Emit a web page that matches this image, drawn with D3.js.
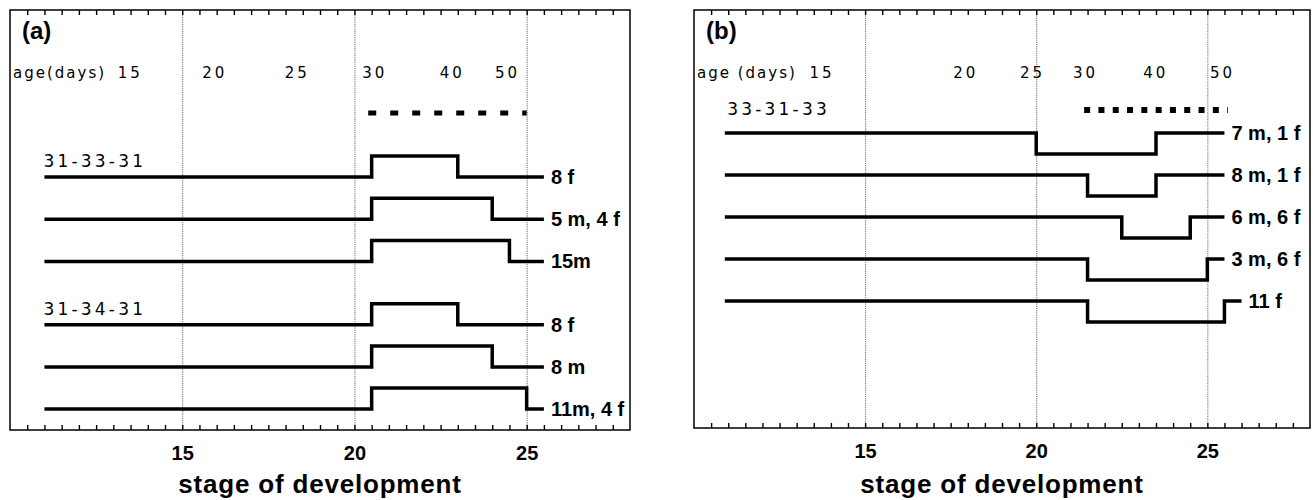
<!DOCTYPE html>
<html>
<head>
<meta charset="utf-8">
<script src="https://cdn.jsdelivr.net/npm/d3@7"></script>
<style>
  body { margin: 0; background: #fff; }
  svg { display: block; }
</style>
</head>
<body>
<div id="main"></div>
<script>
// chart data

// stage of development axis (shared)
const stageDomain = [10, 28];
const stageTicks = [15, 20, 25];
const minorStep = 0.5;

// panel (a)
const ageLabelsA = ['15', '20', '25', '30', '40', '50'];
const ageStagesA = [13.45, 15.9, 18.3, 20.55, 22.8, 24.4];
const groupsA = ['31-33-31', '31-34-31'];
const rowsA = [
  { group: 0, start: 11, shift: 20.5, back: 23, end: 25.5, label: '8 f' },
  { group: 0, start: 11, shift: 20.5, back: 24, end: 25.5, label: '5 m, 4 f' },
  { group: 0, start: 11, shift: 20.5, back: 24.5, end: 25.5, label: '15m' },
  { group: 1, start: 11, shift: 20.5, back: 23, end: 25.5, label: '8 f' },
  { group: 1, start: 11, shift: 20.5, back: 24, end: 25.5, label: '8 m' },
  { group: 1, start: 11, shift: 20.5, back: 25, end: 25.5, label: '11m, 4 f' },
];
const periodA = [20.4, 25];

// panel (b)
const ageLabelsB = ['15', '20', '25', '30', '40', '50'];
const ageStagesB = [13.7, 17.9, 19.85, 21.4, 23.45, 25.4];
const groupsB = ['33-31-33'];
const rowsB = [
  { group: 0, start: 10.9, shift: 20, back: 23.5, end: 25.5, label: '7 m, 1 f' },
  { group: 0, start: 10.9, shift: 21.5, back: 23.5, end: 25.5, label: '8 m, 1 f' },
  { group: 0, start: 10.9, shift: 22.5, back: 24.5, end: 25.5, label: '6 m, 6 f' },
  { group: 0, start: 10.9, shift: 21.5, back: 25, end: 25.5, label: '3 m, 6 f' },
  { group: 0, start: 10.9, shift: 21.5, back: 25.5, end: 26, label: '11 f' },
];
const periodB = [21.4, 25.6];

// layout
const WIDTH = 1313;
const HEIGHT = 500;
const BOLD = "'Liberation Sans', Arial, sans-serif";
const PLAIN = "'DejaVu Sans', Verdana, sans-serif";

const svg = d3
  .select('#main')
  .append('svg')
  .attr('width', WIDTH)
  .attr('height', HEIGHT);

const drawPanel = (props) => {
  const { box, tag, ageTitle, ageLabels, ageStages, groups, rows, period,
    periodStyle, level, firstRowY, rowGap, groupDy } = props;

  const g = svg.append('g');

  const x = d3.scaleLinear().domain(stageDomain).range([box.left, box.right]);

  // rows are spaced evenly, with half a row extra between groups
  const slots = rows.map((d, i) => i + d.group * 0.5);
  const y = d3
    .scaleLinear()
    .domain([0, 1])
    .range([firstRowY, firstRowY + rowGap]);
  const lv = d3.scaleLinear().domain([0, 1]).range([0, -21 * level]);

  // dotted grid at the labelled stages
  g.append('g')
    .attr('transform', `translate(0,${box.bottom})`)
    .call(
      d3.axisBottom(x).tickValues(stageTicks)
        .tickSize(-(box.bottom - box.top)).tickFormat('')
    )
    .call((a) => a.select('.domain').remove())
    .selectAll('line')
    .attr('stroke', '#444')
    .attr('stroke-width', 0.8)
    .attr('stroke-dasharray', '1.2,1');

  // minor ticks top and bottom, pointing inward
  const minor = d3.range(stageDomain[0] + minorStep, stageDomain[1], minorStep);
  g.append('g')
    .attr('transform', `translate(0,${box.bottom})`)
    .call(d3.axisBottom(x).tickValues(minor).tickSize(-5).tickFormat(''))
    .call((a) => a.select('.domain').remove())
    .selectAll('line').attr('stroke', '#000').attr('stroke-width', 1.4);
  g.append('g')
    .attr('transform', `translate(0,${box.top})`)
    .call(d3.axisTop(x).tickValues(minor).tickSize(-5).tickFormat(''))
    .call((a) => a.select('.domain').remove())
    .selectAll('line').attr('stroke', '#000').attr('stroke-width', 1.4);

  // frame
  g.append('rect')
    .attr('x', box.left)
    .attr('y', box.top)
    .attr('width', box.right - box.left)
    .attr('height', box.bottom - box.top)
    .attr('fill', 'none')
    .attr('stroke', '#000')
    .attr('stroke-width', 1.5);

  // stage labels
  g.append('g')
    .attr('transform', `translate(0,${box.bottom})`)
    .call(d3.axisBottom(x).tickValues(stageTicks).tickSize(0).tickPadding(16))
    .call((a) => a.select('.domain').remove())
    .selectAll('text')
    .attr('font-family', BOLD)
    .attr('font-weight', 'bold')
    .attr('font-size', 20)
    .attr('fill', '#000');

  g.append('text')
    .attr('x', (box.left + box.right) / 2)
    .attr('y', 493)
    .attr('text-anchor', 'middle')
    .attr('font-family', BOLD)
    .attr('font-weight', 'bold')
    .attr('font-size', 26)
    .attr('letter-spacing', 0.8)
    .text('stage of development');

  // panel tag
  g.append('text')
    .attr('x', box.left + 12)
    .attr('y', 39)
    .attr('font-family', BOLD)
    .attr('font-weight', 'bold')
    .attr('font-size', 24)
    .text(tag);

  // age scale along the top
  g.append('text')
    .attr('x', box.left + 3)
    .attr('y', 78)
    .attr('font-family', PLAIN)
    .attr('font-size', 15)
    .attr('letter-spacing', 2)
    .text(ageTitle);

  g.selectAll('.age')
    .data(ageLabels)
    .enter()
    .append('text')
    .attr('class', 'age')
    .attr('x', (d, i) => x(ageStages[i]) + 1.5)
    .attr('y', 78)
    .attr('text-anchor', 'middle')
    .attr('font-family', PLAIN)
    .attr('font-size', 15)
    .attr('letter-spacing', 3)
    .text((d) => d);

  // sensitive period bar
  g.append('line')
    .attr('x1', x(period[0]))
    .attr('x2', x(period[1]))
    .attr('y1', periodStyle.y)
    .attr('y2', periodStyle.y)
    .attr('stroke', '#000')
    .attr('stroke-width', periodStyle.width)
    .attr('stroke-dasharray', periodStyle.dash);

  // group labels
  groups.forEach((label, gi) => {
    const first = rows.findIndex((d) => d.group === gi);
    g.append('text')
      .attr('x', x(11) - 1)
      .attr('y', y(slots[first]) - groupDy)
      .attr('font-family', PLAIN)
      .attr('font-size', 17)
      .attr('letter-spacing', 3.2)
      .text(label);
  });

  // temperature step lines
  const line = d3
    .line()
    .x((d) => x(d.s))
    .y((d) => d.y + lv(d.v))
    .curve(d3.curveStepAfter);

  rows.forEach((r, i) => {
    const y0 = y(slots[i]);
    const pts = [
      { s: r.start, v: 0, y: y0 },
      { s: r.shift, v: 1, y: y0 },
      { s: r.back, v: 0, y: y0 },
      { s: r.end, v: 0, y: y0 },
    ];
    g.append('path')
      .attr('d', line(pts))
      .attr('fill', 'none')
      .attr('stroke', '#000')
      .attr('stroke-width', 3.5)
      .attr('stroke-linejoin', 'miter');

    g.append('text')
      .attr('x', x(r.end) + 7)
      .attr('y', y0 + 7)
      .attr('font-family', BOLD)
      .attr('font-weight', 'bold')
      .attr('font-size', 20)
      .text(r.label);
  });
};

drawPanel({
  box: { left: 10, right: 630, top: 10, bottom: 430 },
  tag: '(a)',
  ageTitle: 'age(days)',
  ageLabels: ageLabelsA,
  ageStages: ageStagesA,
  groups: groupsA,
  rows: rowsA,
  period: periodA,
  periodStyle: { y: 113, width: 5, dash: '8,14' },
  level: 1,
  firstRowY: 177,
  rowGap: 42.2,
  groupDy: 10,
});

drawPanel({
  box: { left: 694, right: 1310, top: 10, bottom: 428 },
  tag: '(b)',
  ageTitle: 'age (days)',
  ageLabels: ageLabelsB,
  ageStages: ageStagesB,
  groups: groupsB,
  rows: rowsB,
  period: periodB,
  periodStyle: { y: 110, width: 6, dash: '6,8.3' },
  level: -1,
  firstRowY: 133,
  rowGap: 42,
  groupDy: 18,
});
</script>
</body>
</html>
